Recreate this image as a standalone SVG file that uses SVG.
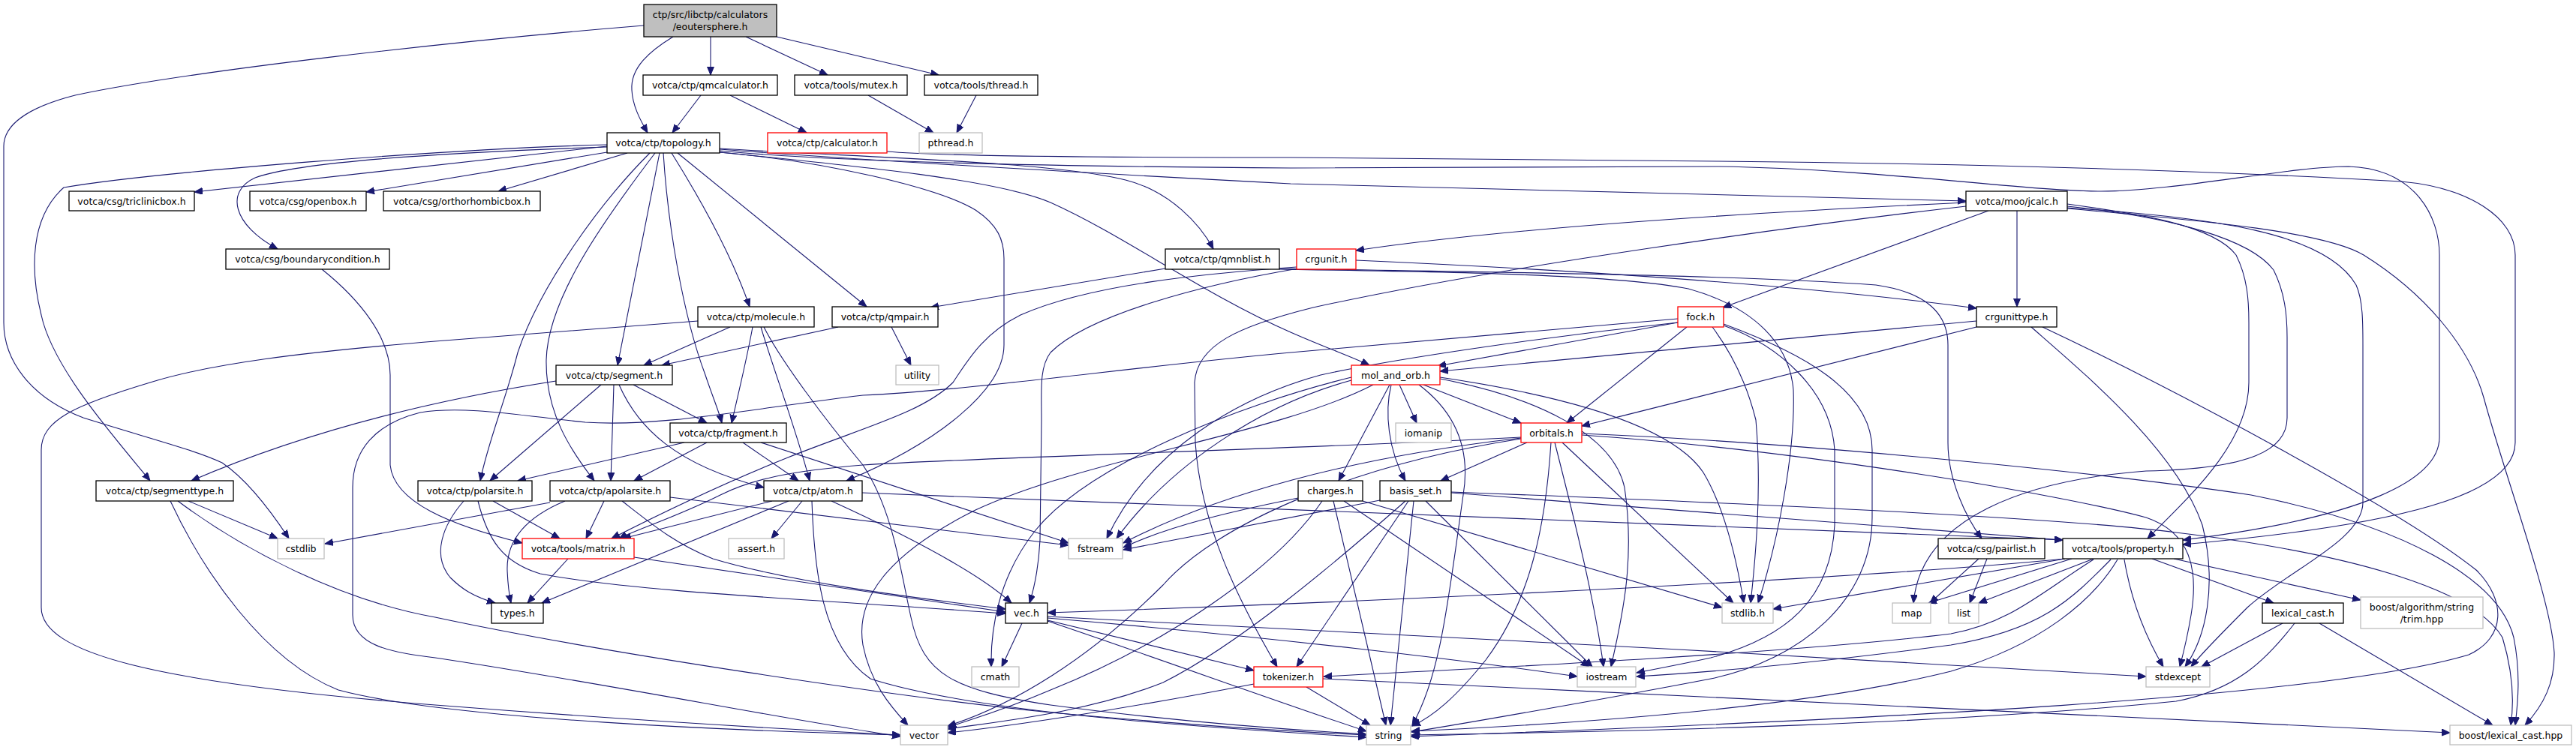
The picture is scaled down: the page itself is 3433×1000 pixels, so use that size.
<svg xmlns="http://www.w3.org/2000/svg" width="3433" height="1000" viewBox="0 0 3433 1000">
<style>
rect{fill:#fff;stroke:#000;stroke-width:1.3}
.r{stroke:#ff0000}
.g{stroke:#bfbfbf}
.root{fill:#bfbfbf}
text{font-family:"DejaVu Sans","Liberation Sans",sans-serif;font-size:12.5px;text-anchor:middle;fill:#000}
.e path{fill:none;stroke:#191970;stroke-width:1.1;marker-end:url(#a)}
</style>
<defs><marker id="a" markerUnits="userSpaceOnUse" markerWidth="12" markerHeight="10" refX="11" refY="4.5" orient="auto"><path d="M0,0 L11,4.5 L0,9 Z" fill="#191970" stroke="#191970"/></marker></defs>
<rect x="0" y="0" width="3433" height="1000" style="stroke:none;fill:#fff"/>
<g class="e" id="edges">
<path d="M897,49 C866,68 840,90 842,120 C843,140 852,158 863,177"/>
<path d="M947,49 L947,100"/>
<path d="M994,49 L1103,100"/>
<path d="M1035,49 L1251,100"/>
<path d="M858,34 C600,55 250,95 100,127 C30,145 5,170 5,195 L5,430 C5,480 40,530 111,557 C200,585 260,600 296,617 C330,640 360,680 385,718"/>
<path d="M934,127 L896,177"/>
<path d="M973,127 L1075,177"/>
<path d="M1157,127 L1244,177"/>
<path d="M1301,127 L1275,177"/>
<path d="M1182,202 C1250,208 1500,210 1720,210 L2290,215 C2600,218 2900,225 3200,242 C3290,250 3352,290 3352,340 L3352,590 C3352,660 3200,700 2909,726"/>
<path d="M959,201 C1100,215 1400,222 1720,224 L2290,222 C2500,225 2700,255 2800,255 C2900,255 3050,222 3130,222 C3220,225 3251,290 3251,340 L3251,583 C3251,640 3150,690 2909,720"/>
<path d="M959,199 C1100,210 1400,228 1720,245 L2620,268"/>
<path d="M959,198 C1150,210 1400,215 1500,240 C1560,255 1600,300 1617,332"/>
<path d="M959,203 C1150,222 1330,240 1400,270 C1500,315 1600,390 1720,443 C1770,465 1800,475 1825,487"/>
<path d="M959,203 C1100,215 1250,250 1300,280 C1330,300 1338,320 1338,345 L1338,460 C1338,520 1250,590 1128,641"/>
<path d="M809,195 L259,256"/>
<path d="M809,203 L488,256"/>
<path d="M836,204 L664,255"/>
<path d="M809,196 C600,203 400,215 340,237 C300,255 310,300 370,332"/>
<path d="M809,193 C600,198 200,230 85,250 C40,290 40,360 55,420 C70,490 150,580 200,641"/>
<path d="M866,204 C800,270 720,380 690,470 C675,530 650,590 640,641"/>
<path d="M873,204 C800,300 730,400 728,480 C727,550 760,600 792,641"/>
<path d="M879,204 L823,487"/>
<path d="M884,204 C890,300 910,420 940,500 C950,530 958,548 962,564"/>
<path d="M895,204 C930,260 975,340 999,409"/>
<path d="M903,204 L1155,409"/>
<path d="M973,436 L858,487"/>
<path d="M1003,436 C995,480 985,520 975,564"/>
<path d="M1014,436 C1030,490 1060,570 1079,641"/>
<path d="M1018,436 C1040,480 1100,560 1150,620 C1190,680 1200,760 1214,823 C1230,900 1270,920 1400,940 C1550,960 1700,972 1821,979"/>
<path d="M930,428 L580,455 C400,470 280,485 200,510 C100,540 55,560 55,600 L55,810 C55,870 200,910 580,940 C900,965 1100,975 1200,980"/>
<path d="M741,508 C600,530 420,570 255,641"/>
<path d="M801,513 L653,641"/>
<path d="M818,513 L814,641"/>
<path d="M825,513 C850,570 900,620 1018,650"/>
<path d="M844,513 L942,564"/>
<path d="M1117,436 L882,487"/>
<path d="M1188,436 L1214,487"/>
<path d="M1553,358 L1240,410"/>
<path d="M912,590 L690,641"/>
<path d="M942,590 L845,641"/>
<path d="M990,590 L1064,641"/>
<path d="M1014,590 L1424,724"/>
<path d="M618,668 C590,700 575,740 600,770 C615,785 630,795 660,804"/>
<path d="M637,668 C650,720 670,750 720,765 C850,790 1100,800 1340,818"/>
<path d="M657,668 L746,718"/>
<path d="M753,668 C700,690 675,720 676,760 C677,785 679,795 681,804"/>
<path d="M805,668 L781,718"/>
<path d="M829,668 C870,700 900,725 950,745 C1050,775 1200,795 1340,812"/>
<path d="M893,663 L1424,727"/>
<path d="M733,670 L433,725"/>
<path d="M429,359 C480,400 520,450 520,500 L520,620 C525,670 600,700 696,724"/>
<path d="M757,745 L703,804"/>
<path d="M845,743 L1340,816"/>
<path d="M1029,668 L830,718"/>
<path d="M1051,668 L722,804"/>
<path d="M1069,668 L1028,718"/>
<path d="M1082,668 C1085,760 1095,860 1160,905 C1300,950 1600,970 1821,983"/>
<path d="M1108,668 C1200,710 1300,760 1348,804"/>
<path d="M1149,657 L2749,720"/>
<path d="M251,668 L370,718"/>
<path d="M237,668 C320,730 450,800 580,823 C800,870 1200,930 1400,950 C1600,968 1750,977 1821,980"/>
<path d="M227,668 C270,760 350,880 451,920 C600,960 1000,975 1200,980"/>
<path d="M2236,425 L1720,470 C1500,490 1300,520 1150,527 C1000,545 880,570 780,563 C700,555 620,540 560,550 C500,565 470,600 470,650 L470,820 C470,860 520,870 580,877 C800,910 1050,960 1200,982"/>
<path d="M1728,356 C1600,365 1450,380 1360,420 C1310,445 1290,480 1270,510 C1230,550 1150,570 1050,610 C950,650 870,690 815,718"/>
<path d="M1730,358 C1600,380 1450,420 1400,470 C1385,490 1388,520 1388,560 L1386,720 C1384,760 1378,785 1372,804"/>
<path d="M1807,347 C2100,360 2400,380 2634,411"/>
<path d="M1705,358 C1900,362 2300,365 2500,380 C2570,390 2596,420 2596,460 L2596,590 C2596,640 2620,690 2641,718"/>
<path d="M1705,359 C1900,362 2150,365 2250,385 C2340,410 2385,460 2390,520 C2393,600 2370,720 2343,804"/>
<path d="M2650,281 L2296,410"/>
<path d="M2688,281 L2688,409"/>
<path d="M2620,270 C2300,285 2000,305 1807,334"/>
<path d="M2620,275 C2400,300 2000,355 1750,410 C1650,435 1595,460 1592,510 L1593,590 C1600,700 1650,800 1702,889"/>
<path d="M2755,272 C2850,285 2950,300 2980,340 C2995,370 2997,400 2997,430 L2997,510 C2997,590 2920,660 2862,718"/>
<path d="M2755,275 C2900,290 3000,320 3030,360 C3045,390 3048,420 3048,450 L3048,557 C3048,600 3000,625 2860,628 C2700,640 2560,690 2550,804"/>
<path d="M2755,277 C2950,290 3100,310 3140,380 C3149,400 3149,430 3149,460 L3149,670 C3149,720 3050,760 2995,810 C2960,845 2935,870 2920,889"/>
<path d="M2755,278 C2950,295 3100,310 3150,340 C3230,390 3290,460 3310,530 C3340,640 3400,800 3404,870 C3405,910 3390,940 3365,967"/>
<path d="M2634,428 L1919,495"/>
<path d="M2634,436 C2500,470 2300,520 2108,568"/>
<path d="M2707,436 C2780,500 2900,600 2935,700 C2955,780 2940,850 2912,889"/>
<path d="M2722,436 C2900,520 3200,680 3300,760 C3340,800 3340,850 3290,873 C3100,930 2500,960 1880,982"/>
<path d="M2236,430 L1916,488"/>
<path d="M2248,436 L2088,564"/>
<path d="M2282,436 C2300,460 2325,500 2340,560 C2348,650 2340,740 2333,804"/>
<path d="M2297,434 C2370,460 2440,520 2445,600 L2445,700 C2440,800 2380,850 2280,877 C2230,888 2200,893 2181,897"/>
<path d="M2297,432 C2400,470 2495,520 2495,600 L2495,690 C2495,800 2400,880 2280,905 C2150,930 1950,965 1881,976"/>
<path d="M2236,430 C2050,450 1850,480 1760,500 C1650,530 1530,600 1475,718"/>
<path d="M1801,503 C1650,540 1450,620 1380,707 C1330,770 1320,840 1321,889"/>
<path d="M1801,507 C1680,540 1560,620 1488,718"/>
<path d="M1830,513 C1700,580 1450,610 1300,680 C1180,740 1140,800 1150,860 C1160,910 1185,940 1210,967"/>
<path d="M1852,513 L1784,641"/>
<path d="M1854,513 C1845,550 1850,600 1873,641"/>
<path d="M1865,513 L1888,564"/>
<path d="M1891,513 C1940,550 1960,600 1950,660 C1930,800 1920,900 1882,967"/>
<path d="M1897,513 L2027,564"/>
<path d="M1919,505 C2050,530 2150,580 2165,650 C2180,750 2160,830 2147,889"/>
<path d="M1919,503 C2100,530 2230,570 2270,630 C2300,680 2315,750 2324,804"/>
<path d="M2035,590 L1920,641"/>
<path d="M2067,590 C2060,700 2040,800 1980,880 C1940,930 1910,955 1882,968"/>
<path d="M2072,590 C2100,700 2125,800 2137,889"/>
<path d="M2082,590 L2310,804"/>
<path d="M2108,578 C2400,590 2800,630 3000,660 C3200,700 3330,770 3350,850 C3360,900 3355,940 3352,967"/>
<path d="M2108,580 C2400,600 2750,660 2860,690 C2920,710 2930,760 2920,820 C2915,850 2910,870 2905,889"/>
<path d="M2027,583 C1700,600 1300,610 1150,620 C1050,628 1000,640 960,660 C900,690 850,705 825,718"/>
<path d="M2027,584 C1800,610 1620,660 1497,724"/>
<path d="M2027,585 C1800,620 1620,700 1550,780 C1450,880 1350,940 1263,968"/>
<path d="M1730,664 C1650,680 1560,700 1497,730"/>
<path d="M1839,667 L1497,733"/>
<path d="M1762,668 C1700,760 1550,860 1400,920 C1330,950 1290,960 1263,970"/>
<path d="M1777,668 L1847,967"/>
<path d="M1791,668 L2118,889"/>
<path d="M1816,668 L2295,810"/>
<path d="M1873,668 C1780,750 1650,860 1550,910 C1450,950 1330,962 1263,972"/>
<path d="M1877,668 L1728,889"/>
<path d="M1884,668 L1853,967"/>
<path d="M1900,668 L2122,889"/>
<path d="M1934,656 C2300,670 2750,690 2900,710 C3150,740 3300,790 3335,850 C3350,900 3350,940 3346,967"/>
<path d="M1934,657 L2749,720"/>
<path d="M2752,745 L2363,812"/>
<path d="M2752,745 C2500,770 1900,800 1396,817"/>
<path d="M2761,745 L2570,804"/>
<path d="M2790,745 L2637,804"/>
<path d="M2790,746 C2720,790 2680,830 2600,845 C2400,870 2000,890 1764,902"/>
<path d="M2813,746 C2760,800 2720,840 2600,860 C2450,880 2300,895 2181,902"/>
<path d="M2822,746 C2790,800 2720,860 2600,895 C2400,945 2100,965 1881,975"/>
<path d="M2831,746 C2840,800 2860,850 2883,889"/>
<path d="M2897,745 L3146,800"/>
<path d="M2868,745 L3030,804"/>
<path d="M3042,831 L2934,889"/>
<path d="M3058,831 C3020,880 2980,920 2900,935 C2600,965 2200,975 1881,980"/>
<path d="M3091,831 L3322,967"/>
<path d="M1671,912 C1500,945 1350,968 1263,977"/>
<path d="M1741,916 L1826,967"/>
<path d="M1763,905 C2300,930 2900,960 3265,977"/>
<path d="M1362,831 L1335,889"/>
<path d="M1396,822 C1800,840 2400,875 2860,902"/>
<path d="M1396,824 C1700,850 1950,880 2102,902"/>
<path d="M1396,827 L1671,894"/>
<path d="M1396,828 C1550,880 1700,935 1821,975"/>
<path d="M2637,745 L2572,804"/>
<path d="M2648,745 L2625,804"/>
</g>
<g id="n-root"><rect class="root" x="858" y="6" width="177" height="43"/><text x="946.5" y="24">ctp/src/libctp/calculators</text><text x="946.5" y="40">/eoutersphere.h</text></g>
<g id="n-qmcalculator"><rect x="857" y="100" width="179" height="27"/><text x="946.5" y="118">votca/ctp/qmcalculator.h</text></g>
<g id="n-mutex"><rect x="1059" y="100" width="150" height="27"/><text x="1134" y="118">votca/tools/mutex.h</text></g>
<g id="n-thread"><rect x="1232" y="100" width="151" height="27"/><text x="1307.5" y="118">votca/tools/thread.h</text></g>
<g id="n-topology"><rect x="809" y="177" width="150" height="27"/><text x="884" y="195">votca/ctp/topology.h</text></g>
<g id="n-calculator"><rect class="r" x="1023" y="177" width="159" height="27"/><text x="1102.5" y="195">votca/ctp/calculator.h</text></g>
<g id="n-pthread"><rect class="g" x="1225" y="177" width="84" height="27"/><text x="1267" y="195">pthread.h</text></g>
<g id="n-triclinicbox"><rect x="92" y="255" width="167" height="26"/><text x="175.5" y="272.5">votca/csg/triclinicbox.h</text></g>
<g id="n-openbox"><rect x="333" y="255" width="155" height="26"/><text x="410.5" y="272.5">votca/csg/openbox.h</text></g>
<g id="n-orthorhombicbox"><rect x="511" y="255" width="209" height="26"/><text x="615.5" y="272.5">votca/csg/orthorhombicbox.h</text></g>
<g id="n-jcalc"><rect x="2620" y="255" width="135" height="26"/><text x="2687.5" y="272.5">votca/moo/jcalc.h</text></g>
<g id="n-boundarycondition"><rect x="301" y="332" width="218" height="27"/><text x="410" y="350">votca/csg/boundarycondition.h</text></g>
<g id="n-qmnblist"><rect x="1553" y="332" width="152" height="27"/><text x="1629" y="350">votca/ctp/qmnblist.h</text></g>
<g id="n-crgunit"><rect class="r" x="1728" y="332" width="79" height="27"/><text x="1767.5" y="350">crgunit.h</text></g>
<g id="n-molecule"><rect x="930" y="409" width="155" height="27"/><text x="1007.5" y="427">votca/ctp/molecule.h</text></g>
<g id="n-qmpair"><rect x="1109" y="409" width="141" height="27"/><text x="1179.5" y="427">votca/ctp/qmpair.h</text></g>
<g id="n-fock"><rect class="r" x="2236" y="409" width="61" height="27"/><text x="2266.5" y="427">fock.h</text></g>
<g id="n-crgunittype"><rect x="2634" y="409" width="107" height="27"/><text x="2687.5" y="427">crgunittype.h</text></g>
<g id="n-segment"><rect x="741" y="487" width="155" height="26"/><text x="818.5" y="504.5">votca/ctp/segment.h</text></g>
<g id="n-utility"><rect class="g" x="1194" y="487" width="57" height="26"/><text x="1222.5" y="504.5">utility</text></g>
<g id="n-mol_and_orb"><rect class="r" x="1801" y="487" width="118" height="26"/><text x="1860" y="504.5">mol_and_orb.h</text></g>
<g id="n-fragment"><rect x="893" y="564" width="155" height="26"/><text x="970.5" y="581.5">votca/ctp/fragment.h</text></g>
<g id="n-iomanip"><rect class="g" x="1860" y="564" width="74" height="26"/><text x="1897" y="581.5">iomanip</text></g>
<g id="n-orbitals"><rect class="r" x="2027" y="564" width="81" height="26"/><text x="2067.5" y="581.5">orbitals.h</text></g>
<g id="n-segmenttype"><rect x="128" y="641" width="183" height="27"/><text x="219.5" y="659">votca/ctp/segmenttype.h</text></g>
<g id="n-polarsite"><rect x="557" y="641" width="152" height="27"/><text x="633" y="659">votca/ctp/polarsite.h</text></g>
<g id="n-apolarsite"><rect x="733" y="641" width="160" height="27"/><text x="813" y="659">votca/ctp/apolarsite.h</text></g>
<g id="n-atom"><rect x="1018" y="641" width="131" height="27"/><text x="1083.5" y="659">votca/ctp/atom.h</text></g>
<g id="n-charges"><rect x="1730" y="641" width="86" height="27"/><text x="1773" y="659">charges.h</text></g>
<g id="n-basis_set"><rect x="1839" y="641" width="95" height="27"/><text x="1886.5" y="659">basis_set.h</text></g>
<g id="n-cstdlib"><rect class="g" x="370" y="718" width="62" height="27"/><text x="401" y="736">cstdlib</text></g>
<g id="n-matrix"><rect class="r" x="696" y="718" width="149" height="27"/><text x="770.5" y="736">votca/tools/matrix.h</text></g>
<g id="n-assert"><rect class="g" x="971" y="718" width="74" height="27"/><text x="1008" y="736">assert.h</text></g>
<g id="n-fstream"><rect class="g" x="1424" y="718" width="72" height="27"/><text x="1460" y="736">fstream</text></g>
<g id="n-pairlist"><rect x="2583" y="718" width="142" height="27"/><text x="2654" y="736">votca/csg/pairlist.h</text></g>
<g id="n-property"><rect x="2749" y="718" width="160" height="27"/><text x="2829" y="736">votca/tools/property.h</text></g>
<g id="n-types"><rect x="655" y="804" width="69" height="27"/><text x="689.5" y="822">types.h</text></g>
<g id="n-vec"><rect x="1340" y="804" width="56" height="27"/><text x="1368" y="822">vec.h</text></g>
<g id="n-stdlib"><rect class="g" x="2295" y="804" width="68" height="27"/><text x="2329" y="822">stdlib.h</text></g>
<g id="n-map"><rect class="g" x="2522" y="804" width="51" height="27"/><text x="2547.5" y="822">map</text></g>
<g id="n-list"><rect class="g" x="2597" y="804" width="40" height="27"/><text x="2617" y="822">list</text></g>
<g id="n-lexical_cast"><rect x="3015" y="804" width="108" height="27"/><text x="3069" y="822">lexical_cast.h</text></g>
<g id="n-trim"><rect class="g" x="3146" y="796" width="163" height="42"/><text x="3227.5" y="814">boost/algorithm/string</text><text x="3227.5" y="830">/trim.hpp</text></g>
<g id="n-cmath"><rect class="g" x="1295" y="889" width="63" height="27"/><text x="1326.5" y="907">cmath</text></g>
<g id="n-tokenizer"><rect class="r" x="1671" y="889" width="92" height="27"/><text x="1717" y="907">tokenizer.h</text></g>
<g id="n-iostream"><rect class="g" x="2102" y="889" width="78" height="27"/><text x="2141" y="907">iostream</text></g>
<g id="n-stdexcept"><rect class="g" x="2860" y="889" width="85" height="27"/><text x="2902.5" y="907">stdexcept</text></g>
<g id="n-vector"><rect class="g" x="1200" y="967" width="63" height="26"/><text x="1231.5" y="984.5">vector</text></g>
<g id="n-string"><rect class="g" x="1821" y="967" width="59" height="26"/><text x="1850.5" y="984.5">string</text></g>
<g id="n-boost_lexical_cast"><rect class="g" x="3265" y="967" width="162" height="26"/><text x="3346" y="984.5">boost/lexical_cast.hpp</text></g>
</svg>
